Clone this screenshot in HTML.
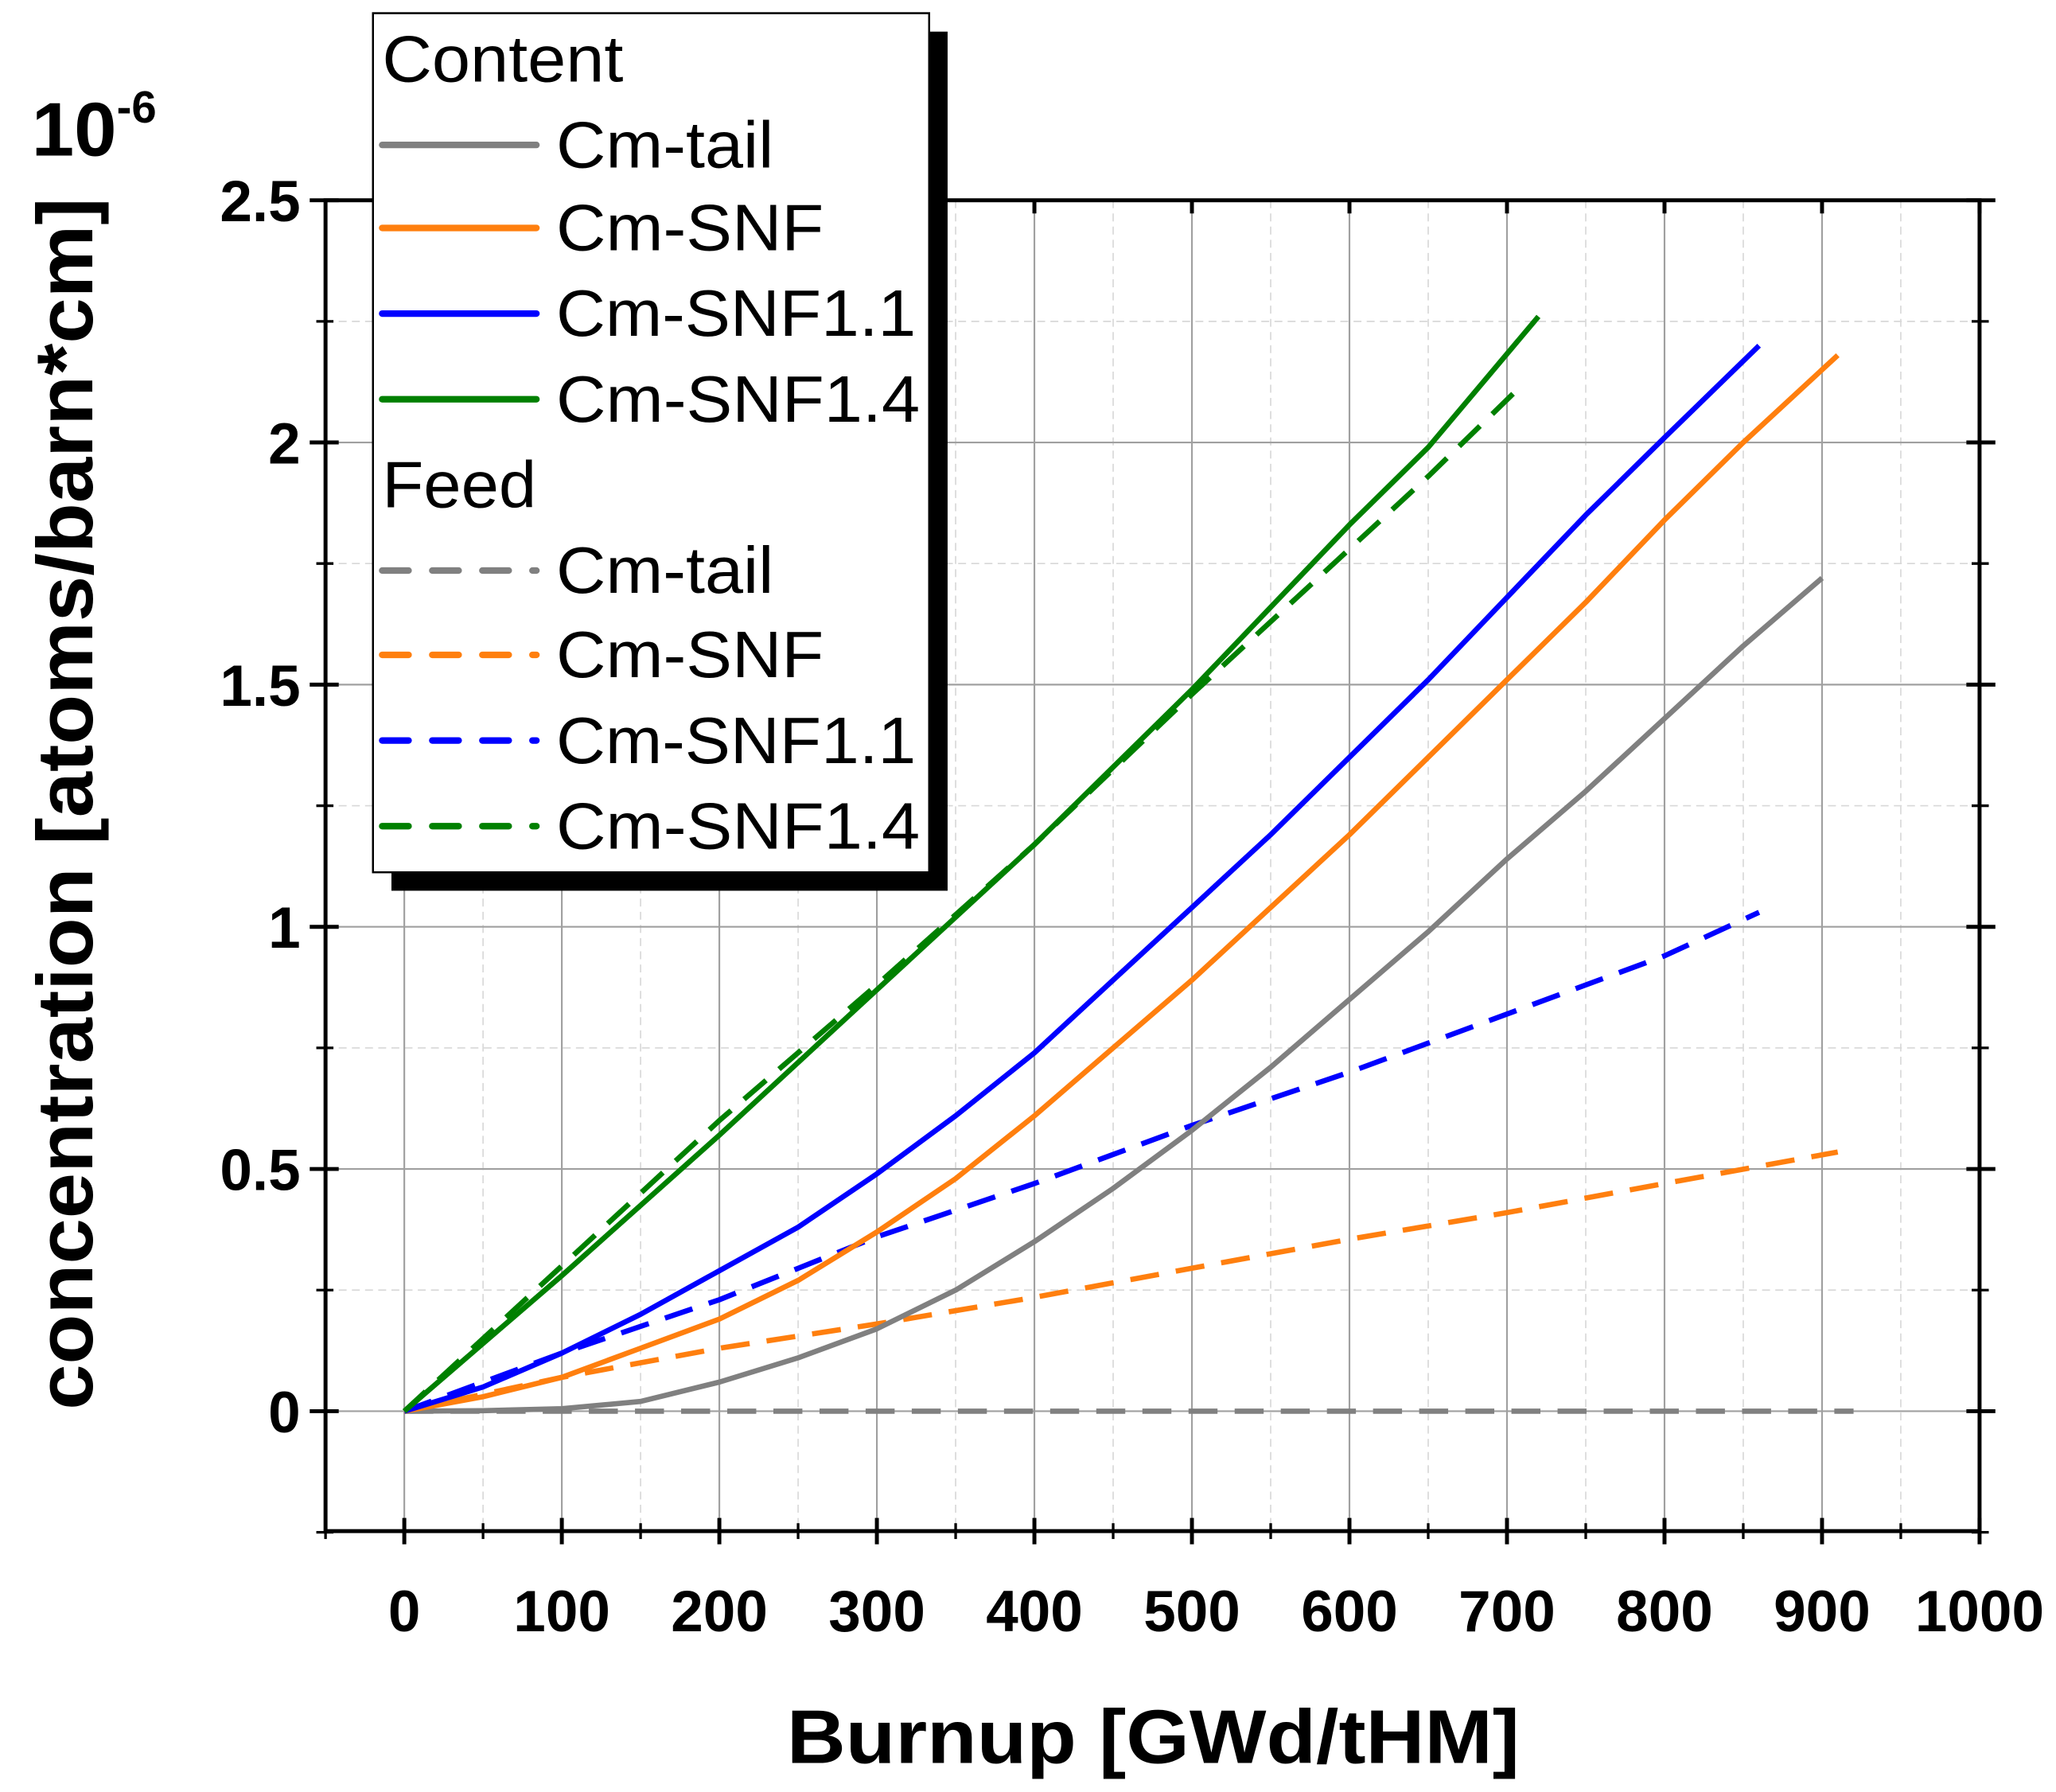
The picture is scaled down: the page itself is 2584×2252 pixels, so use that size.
<!DOCTYPE html>
<html><head><meta charset="utf-8"><style>
html,body{margin:0;padding:0;background:#fff;}
svg{display:block;}
text{font-family:"Liberation Sans",sans-serif;}
</style></head><body>
<svg id="chart" width="2584" height="2252" viewBox="0 0 1560 1360" preserveAspectRatio="none" xmlns="http://www.w3.org/2000/svg">
<rect width="1560" height="1360" fill="#fff"/>
<g id="grid"></g>
<g id="series"></g>
<g id="axes"></g>
<text x="24" y="118" font-size="58" font-weight="bold">10<tspan font-size="34" dy="-25">-6</tspan></text>
<text transform="translate(70,610) rotate(-90)" text-anchor="middle" font-size="60" font-weight="bold" textLength="920" lengthAdjust="spacingAndGlyphs">concentration [atoms/barn*cm]</text>
<text x="875" y="1338" text-anchor="middle" font-size="58" font-weight="bold" textLength="556" lengthAdjust="spacingAndGlyphs">Burnup [GWd/tHM]</text>
<g id="legend"></g>
</svg>
<script>
const NS="http://www.w3.org/2000/svg";
const xTicks=[0,100,200,300,400,500,600,700,800,900,1000];
const yTicks=[0,0.5,1,1.5,2,2.5];
const yTickLabels=["0","0.5","1","1.5","2","2.5"];
const tailX=[0,50,100,150,200,250,300,350,400,450,500,550,600,650,700,750,800,850,900];
const tailY=[0,0.001,0.005,0.02,0.06,0.11,0.17,0.25,0.35,0.46,0.58,0.71,0.85,0.99,1.14,1.28,1.43,1.58,1.72];
const snfX=[0,50,100,150,200,250,300,350,400,450,500,550,600,650,700,750,800,850,910];
const snfY=[0,0.03,0.07,0.13,0.19,0.27,0.37,0.48,0.61,0.75,0.89,1.04,1.19,1.35,1.51,1.67,1.84,2.0,2.18];
const snf11X=[0,50,100,150,200,250,300,350,400,450,500,550,600,650,700,750,800,860];
const snf11Y=[0,0.05,0.12,0.2,0.29,0.38,0.49,0.61,0.74,0.89,1.04,1.19,1.35,1.51,1.68,1.85,2.01,2.2];
const snf14X=[0,100,200,300,400,500,600,650,720];
const snf14Y=[0,0.28,0.57,0.87,1.17,1.49,1.83,1.99,2.26];
const feedTailX=[0,920];
const feedTailY=[0,0];
const feedSnfX=[0,100,200,300,400,500,600,700,800,910];
const feedSnfY=[0,0.07,0.13,0.18,0.235,0.295,0.355,0.41,0.47,0.535];
const feed11X=[0,100,200,300,400,500,600,700,800,860];
const feed11Y=[0,0.12,0.23,0.36,0.47,0.59,0.7,0.82,0.94,1.03];
const feed14X=[0,100,200,300,400,500,600,650,710];
const feed14Y=[0,0.3,0.6,0.88,1.17,1.48,1.78,1.93,2.12];

const L=247,R=1502,T=152,B=1162,XMIN=-50,XMAX=1000,YMIN=-0.2476,YMAX=2.5;
const sx=v=>L+(v-XMIN)/(XMAX-XMIN)*(R-L);
const sy=v=>B-(v-YMIN)/(YMAX-YMIN)*(B-T);
function mk(tag,attrs,parent){const e=document.createElementNS(NS,tag);for(const k in attrs)e.setAttribute(k,attrs[k]);parent.appendChild(e);return e;}
const grid=document.getElementById('grid'),axes=document.getElementById('axes'),ser=document.getElementById('series'),leg=document.getElementById('legend');
for(let v=-50;v<=1000;v+=50){if(v%100!==0){const g=mk('line',{x1:sx(v),x2:sx(v),y1:T,y2:B,stroke:'#d8d8d8','stroke-width':1,'stroke-dasharray':'6 4'},grid);}}
for(let v=-0.25;v<=2.5;v+=0.5){const g=mk('line',{x1:L,x2:R,y1:sy(v),y2:sy(v),stroke:'#d8d8d8','stroke-width':1,'stroke-dasharray':'6 4'},grid);}
xTicks.forEach(v=>{const g=mk('line',{x1:sx(v),x2:sx(v),y1:T,y2:B,stroke:'#a0a0a0','stroke-width':1.3},grid);});
yTicks.forEach(v=>{const g=mk('line',{x1:L,x2:R,y1:sy(v),y2:sy(v),stroke:'#a0a0a0','stroke-width':1.3},grid);});
function draw(xs,ys,color,dash,name){const d=xs.map((x,i)=>(i?'L':'M')+sx(x).toFixed(1)+','+sy(ys[i]).toFixed(1)).join(' ');const p=mk('path',{d:d,fill:'none',stroke:color,'stroke-width':4,'stroke-linejoin':'round'},ser);if(dash)p.setAttribute('stroke-dasharray','22 13');}
draw(feedTailX,feedTailY,'#808080',true,'feed-cm-tail-line');
draw(feedSnfX,feedSnfY,'#ff7f0e',true,'feed-cm-snf-line');
draw(feed11X,feed11Y,'#0000ff',true,'feed-cm-snf1.1-line');
draw(tailX,tailY,'#808080',false,'content-cm-tail-line');
draw(snfX,snfY,'#ff7f0e',false,'content-cm-snf-line');
draw(snf11X,snf11Y,'#0000ff',false,'content-cm-snf1.1-line');
draw(feed14X,feed14Y,'#008000',true,'feed-cm-snf1.4-line');
draw(snf14X,snf14Y,'#008000',false,'content-cm-snf1.4-line');
const fr=mk('rect',{x:L,y:T,width:R-L,height:B-T,fill:'none',stroke:'#000','stroke-width':3},axes);
xTicks.forEach((v,i)=>{mk('line',{x1:sx(v),x2:sx(v),y1:B-10,y2:B+10,stroke:'#000','stroke-width':3},axes);mk('line',{x1:sx(v),x2:sx(v),y1:T,y2:T+10,stroke:'#000','stroke-width':3},axes);const t=mk('text',{x:sx(v),y:1238,'text-anchor':'middle','font-size':44,'font-weight':'bold'},axes);t.textContent=String(v);});
for(let v=-50;v<=1000;v+=50){if(v%100!==0){mk('line',{x1:sx(v),x2:sx(v),y1:B-6,y2:B+6,stroke:'#000','stroke-width':2},axes);}}
yTicks.forEach((v,i)=>{mk('line',{x1:L-12,x2:L+10,y1:sy(v),y2:sy(v),stroke:'#000','stroke-width':3},axes);mk('line',{x1:R-10,x2:R+12,y1:sy(v),y2:sy(v),stroke:'#000','stroke-width':3},axes);const t=mk('text',{x:228,y:sy(v)+16,'text-anchor':'end','font-size':44,'font-weight':'bold'},axes);t.textContent=yTickLabels[i];});
for(let v=-0.25;v<=2.5;v+=0.5){mk('line',{x1:L-7,x2:L+6,y1:sy(v),y2:sy(v),stroke:'#000','stroke-width':2},axes);mk('line',{x1:R-6,x2:R+7,y1:sy(v),y2:sy(v),stroke:'#000','stroke-width':2},axes);}
mk('rect',{x:297,y:24,width:422,height:652,fill:'#000'},leg);
mk('rect',{x:283,y:10,width:422,height:652,fill:'#fff',stroke:'#000','stroke-width':1.5},leg);
const entries=[["Content",null,false,45],["Cm-tail","#808080",false,110],["Cm-SNF","#ff7f0e",false,173],["Cm-SNF1.1","#0000ff",false,238],["Cm-SNF1.4","#008000",false,303],["Feed",null,false,368],["Cm-tail","#808080",true,433],["Cm-SNF","#ff7f0e",true,497],["Cm-SNF1.1","#0000ff",true,562],["Cm-SNF1.4","#008000",true,627]];
const widths={"Content":183,"Feed":117,"Cm-tail":165,"Cm-SNF":203,"Cm-SNF1.1":273,"Cm-SNF1.4":276};
entries.forEach(e=>{if(e[1]){const l=mk('line',{x1:290,x2:407,y1:e[3],y2:e[3],stroke:e[1],'stroke-width':5,'stroke-linecap':'round'},leg);if(e[2])l.setAttribute('stroke-dasharray','20 18');}
const t=mk('text',{x:e[1]?422:290,y:e[3]+17,'font-size':50,textLength:widths[e[0]],lengthAdjust:'spacingAndGlyphs'},leg);t.textContent=e[0];});
</script>
</body></html>
